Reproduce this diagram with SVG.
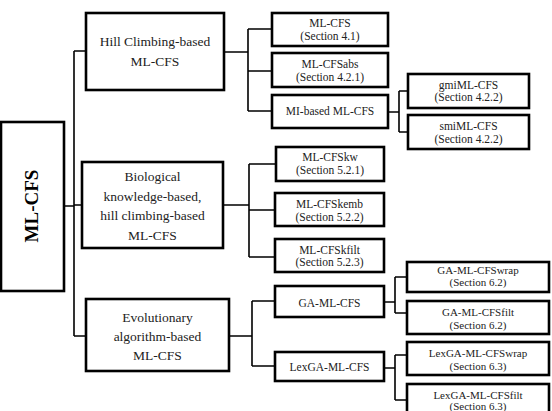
<svg xmlns="http://www.w3.org/2000/svg" width="552" height="411" viewBox="0 0 552 411">
<style>
.b{fill:#fff;stroke:#000;stroke-width:2.6}
.t{font-family:"Liberation Serif","Times New Roman",serif;fill:#222;text-anchor:middle}
.l1{font-size:13.5px}
.l2{font-size:11.5px}
.l3{font-size:11px}
.root{font-size:19px;font-weight:bold;fill:#000}
#connectors path{fill:none;stroke:#000;stroke-width:1.6}
</style>
<rect width="552" height="411" fill="#fff"/>
<g id="connectors">
<path d="M64 206H74M74 51V336M74 51H86M74 205H82M74 336H86"/>
<path d="M224 52H248M248 29V111M248 29H272M248 71H272M248 111H272"/>
<path d="M223 205H249M249 164V257M249 164H276M249 210H275M249 257H275"/>
<path d="M229 336H252M252 301V366M252 301H275M252 366H275"/>
<path d="M388 112H399M399 91V132M399 91H408M399 132H408"/>
<path d="M384 302H395M395 277V313M395 277H407M395 313H407"/>
<path d="M384 368H395M395 355V400M395 355H407M395 400H407"/>
</g>
<g id="root">
<rect class="b" x="1" y="122" width="63" height="169"/>
<text class="t root" transform="translate(38,206) rotate(-90)">ML-CFS</text>
</g>
<g id="hill">
<rect class="b" x="86" y="13" width="138" height="77"/>
<text class="t l1" x="155" y="46">Hill Climbing-based</text>
<text class="t l1" x="155" y="66">ML-CFS</text>
</g>
<g id="bio">
<rect class="b" x="82" y="162" width="141" height="86"/>
<text class="t l1" x="152.5" y="181">Biological</text>
<text class="t l1" x="152.5" y="200.5">knowledge-based,</text>
<text class="t l1" x="152.5" y="220">hill climbing-based</text>
<text class="t l1" x="152.5" y="239.5">ML-CFS</text>
</g>
<g id="evol">
<rect class="b" x="86" y="299" width="143" height="72"/>
<text class="t l1" x="157.5" y="322">Evolutionary</text>
<text class="t l1" x="157.5" y="341">algorithm-based</text>
<text class="t l1" x="157.5" y="360">ML-CFS</text>
</g>
<g id="mlcfs">
<rect class="b" x="272" y="13" width="116" height="33"/>
<text class="t l2" x="330" y="27">ML-CFS</text>
<text class="t l2" x="330" y="40">(Section 4.1)</text>
</g>
<g id="mlcfsabs">
<rect class="b" x="272" y="53" width="116" height="34"/>
<text class="t l2" x="330" y="67.5">ML-CFSabs</text>
<text class="t l2" x="330" y="80.5">(Section 4.2.1)</text>
</g>
<g id="mibased">
<rect class="b" x="272" y="95" width="116" height="33"/>
<text class="t l2" x="330" y="115">MI-based ML-CFS</text>
</g>
<g id="gmi">
<rect class="b" x="408" y="74" width="121" height="34"/>
<text class="t l2" x="468.5" y="88.5">gmiML-CFS</text>
<text class="t l2" x="468.5" y="101">(Section 4.2.2)</text>
</g>
<g id="smi">
<rect class="b" x="408" y="115" width="121" height="34"/>
<text class="t l2" x="468.5" y="130">smiML-CFS</text>
<text class="t l2" x="468.5" y="142.5">(Section 4.2.2)</text>
</g>
<g id="kw">
<rect class="b" x="276" y="147" width="108" height="34"/>
<text class="t l2" x="330" y="161">ML-CFSkw</text>
<text class="t l2" x="330" y="174">(Section 5.2.1)</text>
</g>
<g id="kemb">
<rect class="b" x="275" y="193" width="109" height="33"/>
<text class="t l2" x="329.5" y="208">ML-CFSkemb</text>
<text class="t l2" x="329.5" y="221">(Section 5.2.2)</text>
</g>
<g id="kfilt">
<rect class="b" x="275" y="239" width="109" height="33"/>
<text class="t l2" x="329.5" y="253.5">ML-CFSkfilt</text>
<text class="t l2" x="329.5" y="266">(Section 5.2.3)</text>
</g>
<g id="ga">
<rect class="b" x="275" y="286" width="109" height="31"/>
<text class="t l2" x="329.5" y="307">GA-ML-CFS</text>
</g>
<g id="lexga">
<rect class="b" x="275" y="352" width="109" height="29"/>
<text class="t l2" x="329.5" y="371">LexGA-ML-CFS</text>
</g>
<g id="gawrap">
<rect class="b" x="407" y="262" width="142" height="30"/>
<text class="t l3" x="478" y="273.5">GA-ML-CFSwrap</text>
<text class="t l3" x="478" y="286">(Section 6.2)</text>
</g>
<g id="gafilt">
<rect class="b" x="407" y="301" width="142" height="33"/>
<text class="t l3" x="478" y="316">GA-ML-CFSfilt</text>
<text class="t l3" x="478" y="328.5">(Section 6.2)</text>
</g>
<g id="lexwrap">
<rect class="b" x="407" y="342" width="142" height="33"/>
<text class="t l3" x="478" y="357">LexGA-ML-CFSwrap</text>
<text class="t l3" x="478" y="369.5">(Section 6.3)</text>
</g>
<g id="lexfilt">
<rect class="b" x="407" y="384" width="142" height="30"/>
<text class="t l3" x="478" y="399">LexGA-ML-CFSfilt</text>
<text class="t l3" x="478" y="410">(Section 6.3)</text>
</g>
</svg>
